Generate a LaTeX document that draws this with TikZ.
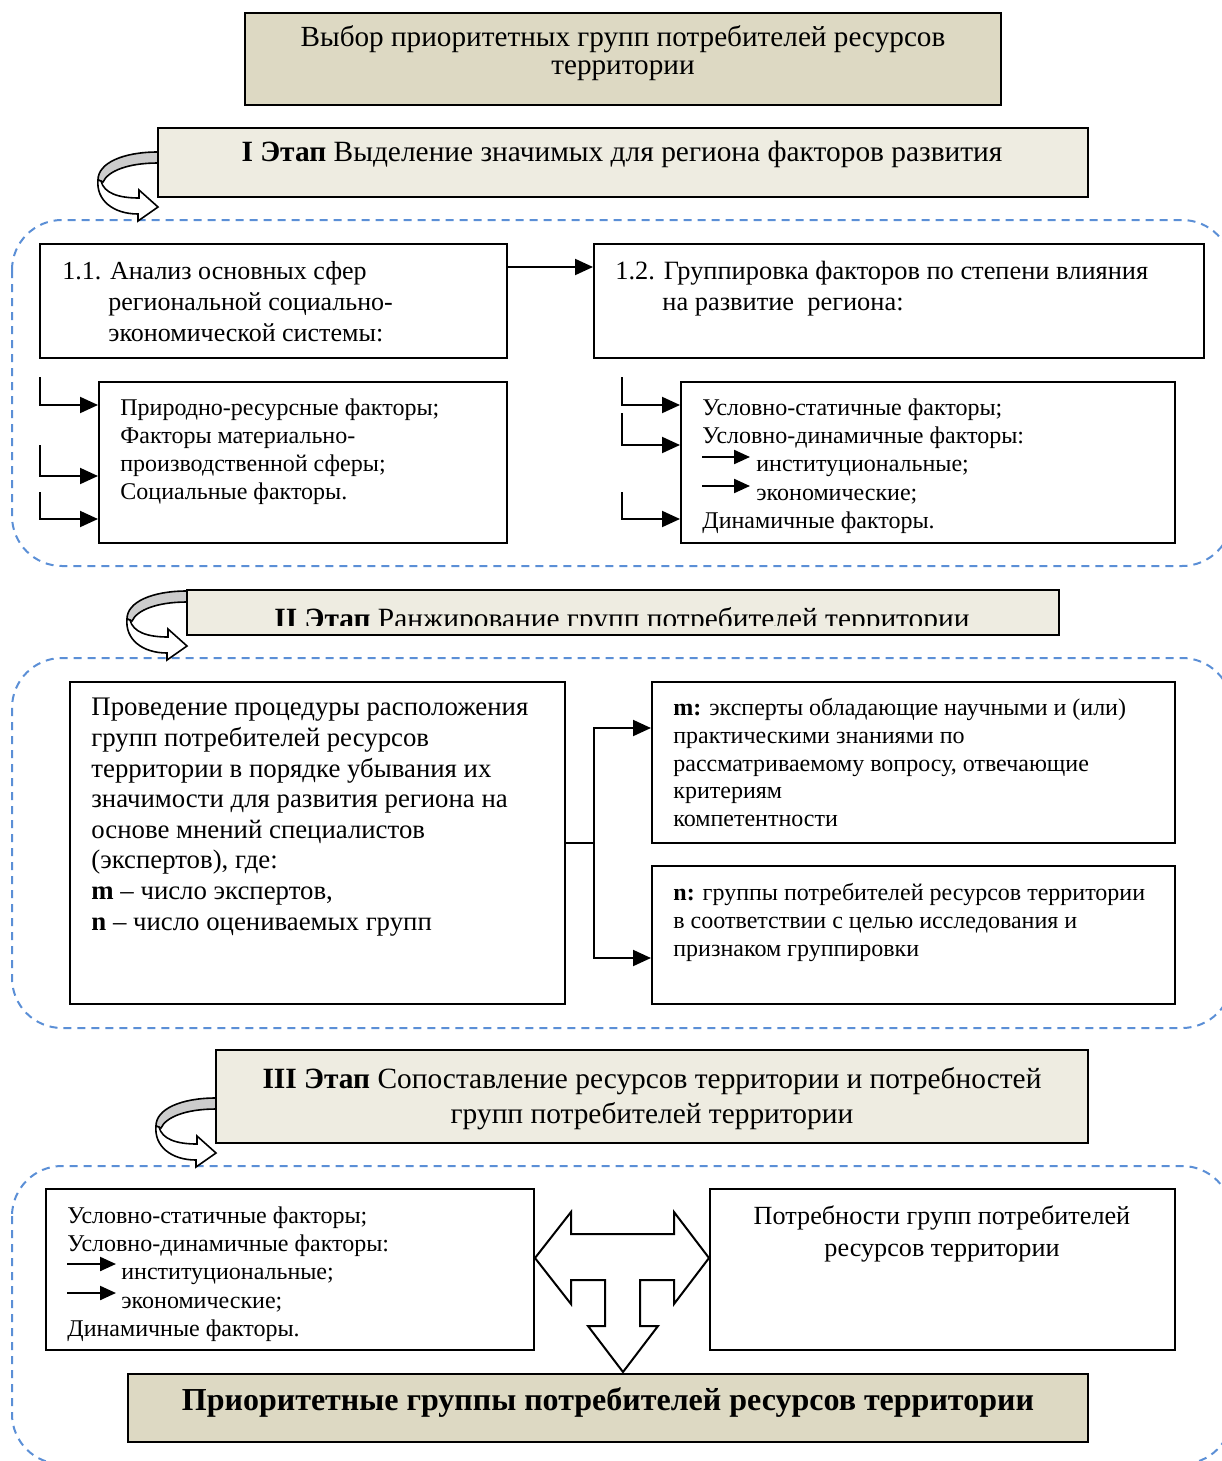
\documentclass[tikz,border=0pt]{standalone}
\usepackage{fontspec}
\setmainfont{Liberation Serif}
\usetikzlibrary{arrows.meta}
\usetikzlibrary{fit}
\usetikzlibrary{positioning}

\definecolor{tan}{RGB}{221,217,195}
\definecolor{paper}{RGB}{238,236,225}
\definecolor{dashblue}{RGB}{91,143,214}

\tikzset{
  box/.style={draw, line width=1pt, inner sep=0pt},
  stagebox/.style={draw, line width=1.2pt, fill=paper, inner sep=0pt},
  titlebox/.style={draw, line width=1.3pt, fill=tan, inner sep=0pt},
  zone/.style={draw=dashblue, line width=1pt, dash pattern=on 4pt off 3pt, rounded corners=25pt},
  txt/.style={inner sep=0pt, align=left, anchor=north west},
  arr/.style={-{Triangle[length=9pt,width=8pt]}, line width=1pt},
  smallarr/.style={-{Triangle[length=8pt,width=7pt]}, line width=1.1pt},
  uturn/.pic={
    \filldraw[fill=gray!40, line width=0.8pt] (0,1) .. controls (-35,1) and (-60,12) .. (-60,29)
      -- (-55,31) .. controls (-50,20) and (-30,12) .. (0,12) -- cycle;
    \filldraw[fill=white, line width=0.8pt] (-57,30) .. controls (-54,42) and (-40,47) .. (-19,47)
      -- (-19,39) -- (0,56) -- (-20,70) -- (-20,63) .. controls (-45,63) and (-62,49) .. (-60,29) -- cycle;
  }
}

\begin{document}
\begin{tikzpicture}[x=0.5pt, y=-0.5pt]
\useasboundingbox (0,0) rectangle (1221,1461);

% dashed zones
\draw[zone] (12,220) rectangle (1232,566);
\draw[zone] (12,658) rectangle (1232,1028);
\draw[zone] (12,1166) rectangle (1232,1464);

% title
\node[titlebox, fit={(245,13) (1001,105)}] (title) {};
\node[inner sep=0pt, align=center, anchor=north, font=\fontsize{14.6}{14}\selectfont] (titletext) at (623,25)
  {Выбор приоритетных групп потребителей ресурсов\\территории};

% stage I
\pic at (158,151) {uturn};
\node[stagebox, fit={(158,128) (1088,197)}] (st1) {};
\node[inner sep=0pt, anchor=north, font=\fontsize{14.7}{16}\selectfont] (st1text) at (622,141)
  {\textbf{I Этап} Выделение значимых для региона факторов развития};

\node[box, fit={(40,244) (507,358)}] (b11) {};
\node[box, fit={(594,244) (1204,358)}] (b12) {};
\node[txt, font=\fontsize{13}{15.5}\selectfont] (b11text) at (62,261)
  {1.1. Анализ основных сфер\\\hspace*{23pt}региональной социально-\\\hspace*{23pt}экономической системы:};
\node[txt, font=\fontsize{13.2}{15.5}\selectfont] (b12text) at (615,261)
  {1.2. Группировка факторов по степени влияния\\\hspace*{23.5pt}на развитие\ \ региона:};
\draw[arr] (b11.east |- 0,267) -- (b12.west |- 0,267);

\node[box, fit={(99,382) (507,543)}] (f1) {};
\node[txt, font=\fontsize{12}{14}\selectfont] (f1text) at (120,398)
  {Природно-ресурсные факторы;\\Факторы материально-\\производственной сферы;\\Социальные факторы.};
\coordinate (s1) at (40,377);
\coordinate (s2) at (40,445);
\coordinate (s3) at (40,492);
\draw[arr] (s1) |- (f1.west |- 0,405);
\draw[arr] (s2) |- (f1.west |- 0,476);
\draw[arr] (s3) |- (f1.west |- 0,519);

\node[box, fit={(681,382) (1175,543)}] (f2) {};
\node[txt, font=\fontsize{12}{14.2}\selectfont] (f2text) at (702,398)
  {Условно-статичные факторы;\\Условно-динамичные факторы:\\\hspace*{27pt}институциональные;\\\hspace*{27pt}экономические;\\Динамичные факторы.};
\coordinate (a1) at (702,457);
\coordinate (a2) at (702,486);
\draw[smallarr] (a1) -- ++(48,0);
\draw[smallarr] (a2) -- ++(48,0);
\coordinate (s4) at (622,377);
\coordinate (s5) at (622,413);
\coordinate (s6) at (622,492);
\draw[arr] (s4) |- (f2.west |- 0,405);
\draw[arr] (s5) |- (f2.west |- 0,445);
\draw[arr] (s6) |- (f2.west |- 0,519);

% stage II
\pic at (187,590) {uturn};
\node[stagebox, fit={(187,590) (1059,635)}] (st2) {};
\begin{scope}
  \clip (187,590) rectangle (1059,625);
  \node[inner sep=0pt, anchor=base, font=\fontsize{14.7}{16}\selectfont] (st2text) at (622,628)
    {\textbf{II Этап} Ранжирование групп потребителей территории};
\end{scope}

\node[box, fit={(70,682) (565,1004)}] (rank) {};
\node[txt, font=\fontsize{13.4}{15.3}\selectfont] (ranktext) at (91,698)
  {Проведение процедуры расположения\\групп потребителей ресурсов\\территории в порядке убывания их\\значимости для развития региона на\\основе мнений специалистов\\(экспертов), где:\\\textbf{m} – число экспертов,\\\textbf{n} – число оцениваемых групп};

\node[box, fit={(652,682) (1175,843)}] (mbox) {};
\node[txt, font=\fontsize{12}{13.9}\selectfont] (mtext) at (673,698)
  {\textbf{m:} эксперты обладающие научными и (или)\\практическими знаниями по\\рассматриваемому вопросу, отвечающие\\критериям\\компетентности};
\node[box, fit={(652,866) (1175,1004)}] (nbox) {};
\node[txt, font=\fontsize{12}{13.9}\selectfont] (ntext) at (673,883)
  {\textbf{n:} группы потребителей ресурсов территории\\в соответствии с целью исследования и\\признаком группировки};

\coordinate (split) at (594,843);
\draw[line width=1pt] (rank.east |- split) -- (split);
\draw[arr] (split) |- (mbox.west |- 0,728);
\draw[arr] (split) |- (nbox.west |- 0,958);

% stage III
\pic at (216,1097) {uturn};
\node[stagebox, fit={(216,1050) (1088,1143)}] (st3) {};
\node[inner sep=0pt, align=center, anchor=north, font=\fontsize{14.7}{17.5}\selectfont] (st3text) at (652,1067)
  {\textbf{III Этап} Сопоставление ресурсов территории и потребностей\\групп потребителей территории};

\node[box, fit={(46,1189) (534,1350)}] (res) {};
\node[txt, font=\fontsize{12}{14.2}\selectfont] (restext) at (67,1206)
  {Условно-статичные факторы;\\Условно-динамичные факторы:\\\hspace*{27pt}институциональные;\\\hspace*{27pt}экономические;\\Динамичные факторы.};
\coordinate (a3) at (67,1264);
\coordinate (a4) at (67,1293);
\draw[smallarr] (a3) -- ++(49,0);
\draw[smallarr] (a4) -- ++(49,0);

\node[box, fit={(710,1189) (1175,1350)}] (needs) {};
\node[inner sep=0pt, align=center, anchor=north, font=\fontsize{13.1}{16}\selectfont] (needstext) at (942,1205)
  {Потребности групп потребителей\\ресурсов территории};

% T-shaped arrow
\draw[line width=1pt, fill=white] (res.east |- 0,1258) -- (571,1212) -- (571,1234) -- (674,1234) -- (674,1212)
  -- (needs.west |- 0,1258) -- (674,1304) -- (674,1280) -- (640,1280) -- (640,1326) -- (658,1326)
  -- (623,1372) -- (588,1326) -- (605,1326) -- (605,1280) -- (571,1280) -- (571,1304) -- cycle;

\node[titlebox, fit={(128,1374) (1088,1442)}] (prio) {};
\node[inner sep=0pt, anchor=north, font=\fontsize{16}{18}\selectfont\bfseries] (priotext) at (608,1387)
  {Приоритетные группы потребителей ресурсов территории};
\end{tikzpicture}
\end{document}
